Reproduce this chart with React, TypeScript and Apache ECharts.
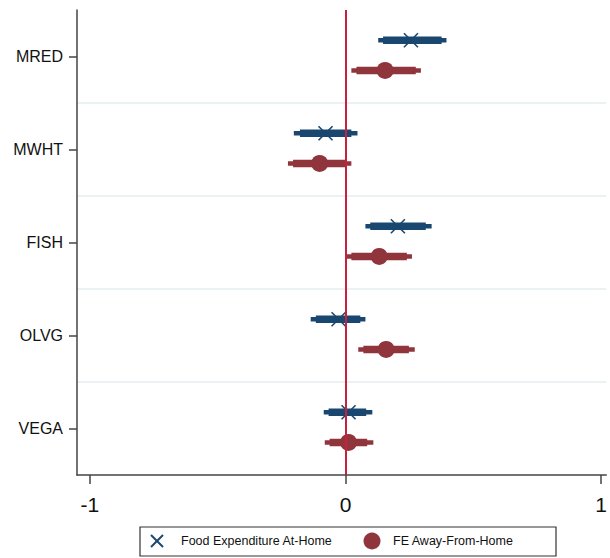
import React, { useEffect, useRef } from 'react';
import * as echarts from 'echarts';

const categories = ['MRED', 'MWHT', 'FISH', 'OLVG', 'VEGA'];

// Food Expenditure At-Home (blue)
const homeEst = [0.256, -0.078, 0.205, -0.027, 0.012];
const homeLo95 = [0.128, -0.202, 0.078, -0.136, -0.085];
const homeHi95 = [0.395, 0.047, 0.337, 0.078, 0.105];
const homeLo90 = [0.147, -0.178, 0.097, -0.116, -0.066];
const homeHi90 = [0.376, 0.023, 0.314, 0.058, 0.081];

// FE Away-From-Home (red)
const awayEst = [0.155, -0.101, 0.132, 0.159, 0.012];
const awayLo95 = [0.023, -0.225, 0.004, 0.05, -0.081];
const awayHi95 = [0.295, 0.023, 0.26, 0.271, 0.109];
const awayLo90 = [0.043, -0.205, 0.023, 0.07, -0.062];
const awayHi90 = [0.275, 0.004, 0.24, 0.248, 0.085];

const xTicks = [-1, 0, 1];
const seriesNames = ['Food Expenditure At-Home', 'FE Away-From-Home'];

const BLUE = '#1a476f';
const RED = '#90353b';
const ZERO = '#c8203f';
const FONT = '"Liberation Sans", Arial, Helvetica, sans-serif';

function buildData(est: number[], lo95: number[], hi95: number[], lo90: number[], hi90: number[]) {
  return categories.map((_, i) => [i, est[i], lo95[i], hi95[i], lo90[i], hi90[i]]);
}

function makeRender(offsetFrac: number, color: string, marker: 'x' | 'circle') {
  return (params: any, api: any) => {
    const cat = api.value(0);
    const band = api.size([0, 1])[1];
    const dy = offsetFrac * band;
    const pe = api.coord([api.value(1), cat]);
    const a95 = api.coord([api.value(2), cat]);
    const b95 = api.coord([api.value(3), cat]);
    const a90 = api.coord([api.value(4), cat]);
    const b90 = api.coord([api.value(5), cat]);
    const y = pe[1] + dy;
    const thin = 4.5;
    const thick = 7.5;
    const children: any[] = [
      {
        type: 'rect',
        shape: { x: a95[0], y: y - thin / 2, width: b95[0] - a95[0], height: thin },
        style: { fill: color },
      },
      {
        type: 'rect',
        shape: { x: a90[0], y: y - thick / 2, width: b90[0] - a90[0], height: thick },
        style: { fill: color },
      },
    ];
    if (marker === 'circle') {
      children.push({
        type: 'circle',
        shape: { cx: pe[0], cy: y, r: 8.5 },
        style: { fill: color },
      });
    } else {
      const s = 7;
      children.push({
        type: 'line',
        shape: { x1: pe[0] - s, y1: y - s, x2: pe[0] + s, y2: y + s },
        style: { stroke: color, lineWidth: 1.6 },
      });
      children.push({
        type: 'line',
        shape: { x1: pe[0] - s, y1: y + s, x2: pe[0] + s, y2: y - s },
        style: { stroke: color, lineWidth: 1.6 },
      });
    }
    return { type: 'group', children };
  };
}

export default function App() {
  const ref = useRef<HTMLDivElement>(null);
  useEffect(() => {
    if (!ref.current) return;
    const chart = echarts.init(ref.current, undefined, { renderer: 'svg' });
    const option: any = {
      animation: false,
      backgroundColor: '#ffffff',
      grid: { left: 77, right: 0, top: 10, bottom: 83, containLabel: false },
      xAxis: {
        type: 'value',
        min: -1.05,
        max: 1.02,
        axisLine: { show: true, lineStyle: { color: '#444', width: 1.5 } },
        axisTick: {
          show: true,
          customValues: xTicks,
          length: 9,
          lineStyle: { color: '#444', width: 1.5 },
        },
        axisLabel: {
          customValues: xTicks,
          margin: 19,
          fontSize: 21,
          color: '#111',
          fontFamily: FONT,
        },
        splitLine: { show: false },
      },
      yAxis: {
        type: 'category',
        data: categories,
        inverse: true,
        boundaryGap: true,
        axisLine: { show: true, onZero: false, lineStyle: { color: '#444', width: 1.5 } },
        axisTick: { show: true, alignWithLabel: true, length: 8, lineStyle: { color: '#444', width: 1.5 } },
        axisLabel: { margin: 14, fontSize: 16, color: '#111', fontFamily: FONT },
        splitLine: {
          show: true,
          showMinLine: false,
          showMaxLine: false,
          lineStyle: { color: '#e6eef1', width: 1.5 },
        },
      },
      series: [
        {
          name: seriesNames[0],
          type: 'custom',
          renderItem: makeRender(-0.175, BLUE, 'x'),
          encode: { x: [1, 2, 3, 4, 5], y: 0 },
          data: buildData(homeEst, homeLo95, homeHi95, homeLo90, homeHi90),
          z: 3,
          markLine: {
            silent: true,
            symbol: 'none',
            label: { show: false },
            lineStyle: { color: ZERO, width: 2, type: 'solid' },
            data: [{ xAxis: 0 }],
            z: 6,
          },
        },
        {
          name: seriesNames[1],
          type: 'custom',
          renderItem: makeRender(0.15, RED, 'circle'),
          encode: { x: [1, 2, 3, 4, 5], y: 0 },
          data: buildData(awayEst, awayLo95, awayHi95, awayLo90, awayHi90),
          z: 3,
        },
      ],
      graphic: [
        {
          type: 'rect',
          shape: { x: 140, y: 527, width: 416, height: 29 },
          style: { fill: '#fff', stroke: '#333', lineWidth: 1.2 },
        },
        {
          type: 'line',
          shape: { x1: 151, y1: 535, x2: 163, y2: 547 },
          style: { stroke: BLUE, lineWidth: 2 },
        },
        {
          type: 'line',
          shape: { x1: 151, y1: 547, x2: 163, y2: 535 },
          style: { stroke: BLUE, lineWidth: 2 },
        },
        {
          type: 'text',
          x: 181,
          y: 541,
          style: {
            text: seriesNames[0],
            fontSize: 12.5,
            fontFamily: FONT,
            fill: '#111',
            verticalAlign: 'middle',
            align: 'left',
          },
        },
        {
          type: 'circle',
          shape: { cx: 372, cy: 541, r: 8.5 },
          style: { fill: RED },
        },
        {
          type: 'text',
          x: 393,
          y: 541,
          style: {
            text: seriesNames[1],
            fontSize: 12.5,
            fontFamily: FONT,
            fill: '#111',
            verticalAlign: 'middle',
            align: 'left',
          },
        },
      ],
    };
    chart.setOption(option);
    return () => chart.dispose();
  }, []);
  return (
    <div
      ref={ref}
      style={{ position: 'fixed', left: 0, top: 0, width: 610, height: 558 }}
    />
  );
}
